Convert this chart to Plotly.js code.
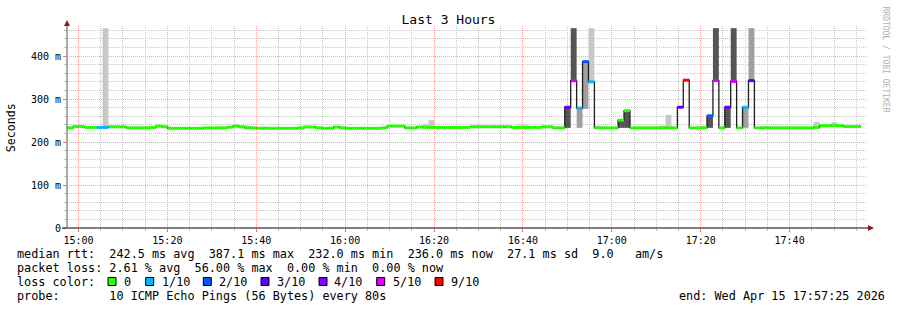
<!DOCTYPE html>
<html>
<head>
<meta charset="utf-8">
<script src="https://cdn.plot.ly/plotly-3.0.1.min.js"></script>
<style>
html,body{margin:0;padding:0;background:#fff;}
#chart{width:897px;height:310px;}
</style>
</head>
<body>
<div id="chart"></div>
<script>
// ---------------- data ----------------
const startTime = "2026-04-15 14:57:25";
const endTime = "2026-04-15 17:57:25";
const stepSeconds = 80;

// median RTT per 80 s step (ms)
const medianMs = [
  233, 236, 236, 234, 234, 234, 234, 235.5, 235.5, 235.5,
  233, 233, 233, 233, 234, 237, 235.6, 232, 232, 232,
  232, 232, 232, 233, 233, 233, 233, 234.5, 237, 235.6,
  233, 233, 232, 232, 232, 232, 232, 232, 232, 233,
  235, 235, 233, 232, 232.5, 235, 233, 232, 232, 232,
  232, 232, 232, 233, 237, 237, 237, 233, 233, 235,
  234, 234, 234, 234, 234, 234, 234, 234, 235.6, 235.6,
  235.6, 235.6, 235.6, 235.6, 235.6, 234, 234, 234, 234, 234,
  235.5, 235.5, 233, 233, 281, 342.6, 279, 387.1, 340, 233,
  233, 233, 233, 251, 273, 233, 233, 233, 233, 233,
  233, 233, 233, 281, 344, 233, 233, 233, 261, 343,
  233, 281, 341, 233, 281, 343, 233, 233, 233, 233,
  233, 233, 233, 233, 233, 233, 234, 238, 238, 238,
  238, 236, 236, 236
];

// lost pings out of 10 per step
const lossTenths = [
  0, 0, 0, 0, 0, 1, 1, 0, 0, 0,
  0, 0, 0, 0, 0, 0, 0, 0, 0, 0,
  0, 0, 0, 0, 0, 0, 0, 0, 0, 0,
  0, 0, 0, 0, 0, 0, 0, 0, 0, 0,
  0, 0, 0, 0, 0, 0, 0, 0, 0, 0,
  0, 0, 0, 0, 0, 0, 0, 0, 0, 0,
  0, 0, 0, 0, 0, 0, 0, 0, 0, 0,
  0, 0, 0, 0, 0, 0, 0, 0, 0, 0,
  0, 0, 0, 0, 3, 5, 1, 2, 1, 0,
  0, 0, 0, 0, 0, 0, 0, 0, 0, 0,
  0, 0, 0, 3, 9, 0, 0, 0, 2, 5,
  0, 3, 5, 0, 1, 3, 0, 0, 0, 0,
  0, 0, 0, 0, 0, 0, 0, 0, 0, 0,
  0, 0, 0, 0
];

// smoke (ping spread) per step: step index, low ms, high ms, shade
const smokeStep  = [2, 6, 30, 33, 60, 61, 76, 77, 84, 85, 86, 87, 88, 89, 90, 93, 94, 100, 101, 107, 108, 109, 111, 112, 114, 115, 117, 118, 126, 128, 129];
const smokeLow   = [236, 234, 233, 232, 234, 234, 234, 234, 233, 342.6, 233, 277, 340, 233, 233, 233, 233, 233, 233, 233, 233, 343, 233, 341, 233, 343, 233, 233, 234, 238, 238];
const smokeHigh  = [239, 465, 238, 236, 242, 251, 239, 239, 281, 465, 279, 387.1, 465, 238, 235.5, 251, 273, 238, 263, 238, 261, 465, 281, 465, 281, 465, 236, 236, 246.5, 240.5, 246];
const smokeShade = ["light","light","light","light","light","light","light","light","dark","dark","mid","mid","light","light","light","dark","dark","light","light","light","dark","dark","dark","dark","mid","mid","light","light","light","light","light"];

const lossLevels = [0, 1, 2, 3, 4, 5, 9];
const lossLabels = ["0", "1/10", "2/10", "3/10", "4/10", "5/10", "9/10"];

const statLines = [
  "median rtt:  242.5 ms avg  387.1 ms max  232.0 ms min  236.0 ms now  27.1 ms sd  9.0   am/s",
  "packet loss: 2.61 % avg  56.00 % max  0.00 % min  0.00 % now",
  "loss color:",
  "probe:       10 ICMP Echo Pings (56 Bytes) every 80s"
];
const endLabel = "end: Wed Apr 15 17:57:25 2026";
const yTickVals = [0, 100, 200, 300, 400];
const yTickText = ["0", "100 m", "200 m", "300 m", "400 m"];

// ---------------- styles ----------------
const lossColors = {0:"#26ff00",1:"#00b8ff",2:"#0059ff",3:"#5e00ff",4:"#7e00ff",5:"#dd00ff",9:"#ff0000"};
const shadeColors = {dark:"#555555", mid:"#a0a0a0", light:"#c8c8c8"};
const MONO = "DejaVu Sans Mono, monospace";

// ---------------- helpers ----------------
function toMs(s){ const [d,t]=s.split(" "); const [Y,M,D]=d.split("-").map(Number); const [h,m,sec]=t.split(":").map(Number); return Date.UTC(Y,M-1,D,h,m,sec); }
function fmt(ms){ return new Date(ms).toISOString().replace("T"," ").slice(0,19); }
const base = toMs(startTime);
const n = medianMs.length;
const stepX = [];
for (let i=0;i<=n;i++) stepX.push(fmt(base + i*stepSeconds*1000));

// px -> paper helpers (plot area x:67..867, y:26..228)
const L=67, R=867, T=26, B=228;
const px = x => (x-L)/(R-L);
const py = y => (B-y)/(B-T);
const nb = s => s.replace(/ /g, "\u00a0");

const traces = [];

// smoke bars
["light","mid","dark"].forEach(sh=>{
  const xs=[], bs=[], ys=[];
  smokeStep.forEach((k,j)=>{
    if (smokeShade[j]!==sh) return;
    xs.push(stepX[k]); bs.push(smokeLow[j]); ys.push(smokeHigh[j]-smokeLow[j]);
  });
  traces.push({type:"bar", x:xs, y:ys, base:bs, width:xs.map(()=>stepSeconds*1000), offset:0,
    marker:{color:shadeColors[sh], line:{width:0}}, hoverinfo:"skip", showlegend:false});
});

// black median step line
traces.push({type:"scatter", mode:"lines", x:stepX, y:medianMs.concat([medianMs[n-1]]),
  line:{shape:"hv", color:"#202020", width:1.3}, hoverinfo:"skip", showlegend:false});

// coloured median by loss level: one short horizontal bar per step
lossLevels.forEach(lv=>{
  const xs=[], ys=[];
  for (let i=0;i<n;i++){
    if (lossTenths[i]!==lv) continue;
    xs.push(stepX[i], stepX[i+1], null); ys.push(medianMs[i], medianMs[i], null);
  }
  if (xs.length) traces.push({type:"scatter", mode:"lines", x:xs, y:ys, connectgaps:false,
    line:{color:lossColors[lv], width:3}, hoverinfo:"skip", showlegend:false});
});

// ---------------- annotations & shapes ----------------
const annotations = [];
const shapes = [];
const lineY = [254.3, 268.3, 282.3, 296.3];
statLines.forEach((s,i)=>{
  annotations.push({xref:"paper", yref:"paper", x:px(15), y:py(lineY[i]), xanchor:"left", yanchor:"middle",
    text:nb(s), showarrow:false, font:{family:MONO, size:11.8, color:"#000"}});
});
annotations.push({xref:"paper", yref:"paper", x:px(677), y:py(lineY[3]), xanchor:"left", yanchor:"middle",
  text:nb(endLabel), showarrow:false, font:{family:MONO, size:11.8, color:"#000"}});

const sqX = [108, 145.7, 203.3, 261, 319, 376.7, 435];
const lblX = [122, 159.7, 217, 275, 332, 390.7, 449];
lossLevels.forEach((lv,i)=>{
  shapes.push({type:"rect", xref:"paper", yref:"paper", x0:px(sqX[i]), x1:px(sqX[i]+8), y0:py(277.5), y1:py(285.5),
    fillcolor:lossColors[lv], line:{color:"#000", width:1}});
  annotations.push({xref:"paper", yref:"paper", x:px(lblX[i]), y:py(lineY[2]), xanchor:"left", yanchor:"middle",
    text:lossLabels[i], showarrow:false, font:{family:MONO, size:11.8, color:"#000"}});
});

// y title
annotations.push({xref:"paper", yref:"paper", x:px(10.7), y:py(127.5), xanchor:"center", yanchor:"middle",
  text:"Seconds", textangle:-90, showarrow:false, font:{family:MONO, size:11.6, color:"#000"}});
// rrdtool watermark
annotations.push({xref:"paper", yref:"paper", x:px(885.5), y:py(59), xanchor:"center", yanchor:"middle",
  text:nb("RRDTOOL / TOBI OETIKER"), textangle:90, showarrow:false, font:{family:MONO, size:8, color:"#b0b0b0"}});

// axes lines and arrows
shapes.push({type:"line", xref:"paper", yref:"paper", x0:px(62), x1:px(870), y0:py(228), y1:py(228), line:{color:"#000", width:1}});
shapes.push({type:"line", xref:"paper", yref:"paper", x0:px(67), x1:px(67), y0:py(228), y1:py(23), line:{color:"#555", width:1}});
shapes.push({type:"path", xref:"paper", yref:"paper",
  path:`M ${px(868)} ${py(225)} L ${px(874)} ${py(228)} L ${px(868)} ${py(231)} Z`, fillcolor:"#8b1a1a", line:{width:0}});
shapes.push({type:"path", xref:"paper", yref:"paper",
  path:`M ${px(64)} ${py(26)} L ${px(67)} ${py(20)} L ${px(70)} ${py(26)} Z`, fillcolor:"#8b1a1a", line:{width:0}});

const majorGrid = "#ffa0a0", minorGrid = "#c8c8c8", gridDash = "1px,1px";
const layout = {
  width:897, height:310,
  margin:{l:L, r:897-R, t:T, b:310-B, pad:0},
  paper_bgcolor:"#fff", plot_bgcolor:"#fff",
  barmode:"overlay",
  showlegend:false,
  title:{text:"Last 3 Hours", font:{family:MONO, size:13, color:"#000"}, x:0.5, xanchor:"center", y:1-19/310, yanchor:"middle", xref:"container", yref:"container"},
  xaxis:{type:"date", range:[startTime, endTime], tick0:"2026-04-15 15:00:00", dtick:20*60*1000,
    tickformat:"%H:%M", showgrid:true, gridcolor:majorGrid, griddash:gridDash, gridwidth:1,
    ticks:"outside", ticklen:3, tickcolor:"#ff6666", showline:false, zeroline:false,
    tickfont:{family:MONO, size:10, color:"#000"},
    minor:{dtick:5*60*1000, tick0:"2026-04-15 15:00:00", showgrid:true, gridcolor:minorGrid, griddash:gridDash, gridwidth:1, ticks:"outside", ticklen:2, tickcolor:"#bbbbbb"},
    fixedrange:true},
  yaxis:{range:[0,470], tickvals:yTickVals, ticktext:yTickText, showgrid:true, gridcolor:majorGrid, griddash:gridDash, gridwidth:1,
    ticks:"outside", ticklen:3, tickcolor:"#ff6666", showline:false, zeroline:false,
    tickfont:{family:MONO, size:10, color:"#000"},
    minor:{dtick:20, tick0:0, showgrid:true, gridcolor:minorGrid, griddash:gridDash, gridwidth:1, ticks:"outside", ticklen:2, tickcolor:"#bbbbbb"},
    fixedrange:true},
  annotations, shapes
};

Plotly.newPlot("chart", traces, layout, {displayModeBar:false, staticPlot:true});
</script>
</body>
</html>
